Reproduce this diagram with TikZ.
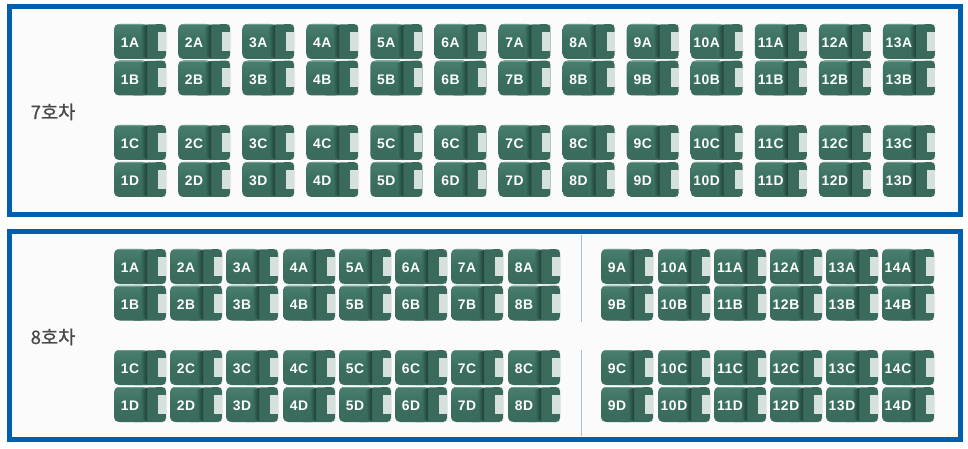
\documentclass[tikz,border=0pt]{standalone}
\usepackage{fontspec}
\setmainfont{Liberation Sans}
\newfontfamily\seatfont[LetterSpace=4]{Liberation Sans}
\newfontfamily\korfont[FakeBold=0.5]{Noto Sans CJK KR}
\usetikzlibrary{positioning, calc}
\definecolor{seatgreen}{HTML}{3A6F60}
\definecolor{seatlight}{HTML}{4A7F6F}
\definecolor{seatback}{HTML}{3A6A5C}
\definecolor{seatdark}{HTML}{1F3F36}
\definecolor{seatedge}{HTML}{6B9F90}
\definecolor{seatpale}{HTML}{D6E1DD}
\definecolor{panelblue}{HTML}{0060AE}
\definecolor{panelbg}{HTML}{FBFBFC}
\definecolor{splitblue}{HTML}{9FC0DE}
\tikzset{
  panelbox/.style={draw=panelblue, line width=3.75pt, fill=panelbg},
  carlabel/.style={font=\korfont\fontsize{14}{14}\selectfont, text=black!72, inner sep=0pt},
  seatlabel/.style={font=\seatfont\bfseries\fontsize{10.4}{10.4}\selectfont, text=white, inner sep=0pt},
  splitline/.style={draw=splitblue, line width=0.6pt}
}
% one seat: x, y, node name, label
\newcommand{\seatat}[4]{
  \begin{scope}[shift={(#1,#2)}]
  \fill[seatback, rounded corners=1.5pt] (18,1) -- (50,0) -- (52,2) -- (52,33) -- (50,35) -- (18,35) -- cycle;
  \fill[seatpale] (44,8) rectangle (52,27);
  \shade[top color=seatlight, bottom color=seatback, middle color=seatgreen, rounded corners=2pt] (3,0) -- (31,0) -- (33,3) -- (33,33) -- (31,35) -- (3,35) -- (0,32) -- (0,3) -- cycle;
  \shade[left color=seatgreen, right color=seatdark] (27,3) -- (33,1) -- (33,34) -- (27,32) -- cycle;
  \draw[seatedge, line width=0.4pt] (3,0.4) -- (30,0.4);
  \node[seatlabel] (#3) at (16,19) {#4};
  \end{scope}
}
\begin{document}
\begin{tikzpicture}[x=0.75pt, y=-0.75pt]
\useasboundingbox (0,0) rectangle (968,449);
\fill[white] (0,0) rectangle (968,449);
% car 7
\draw[panelbox] (9.5,7) rectangle (960.5,214.5);
\node[carlabel] (car7) at (53,112) {7호차};
\foreach \n [evaluate=\n as \xx using {114+64.08*(\n-1)}] in {1,...,13} {
  \seatat{\xx}{24}{seven\n A}{\n A}
  \seatat{\xx}{60.5}{seven\n B}{\n B}
  \seatat{\xx}{125}{seven\n C}{\n C}
  \seatat{\xx}{162}{seven\n D}{\n D}
}
% car 8
\draw[panelbox] (9.5,232) rectangle (960.5,439);
\node[carlabel] (car8) at (53,337) {8호차};
\foreach \n/\xx in {1/114,2/170,3/226,4/283,5/339,6/395,7/451,8/508,9/601,10/658,11/714,12/770,13/826,14/882} {
  \seatat{\xx}{249}{eight\n A}{\n A}
  \seatat{\xx}{285.5}{eight\n B}{\n B}
  \seatat{\xx}{350}{eight\n C}{\n C}
  \seatat{\xx}{387}{eight\n D}{\n D}
}
\draw[splitline] (581,235) -- (581,322);
\draw[splitline] (581,350) -- (581,436);
\end{tikzpicture}
\end{document}
